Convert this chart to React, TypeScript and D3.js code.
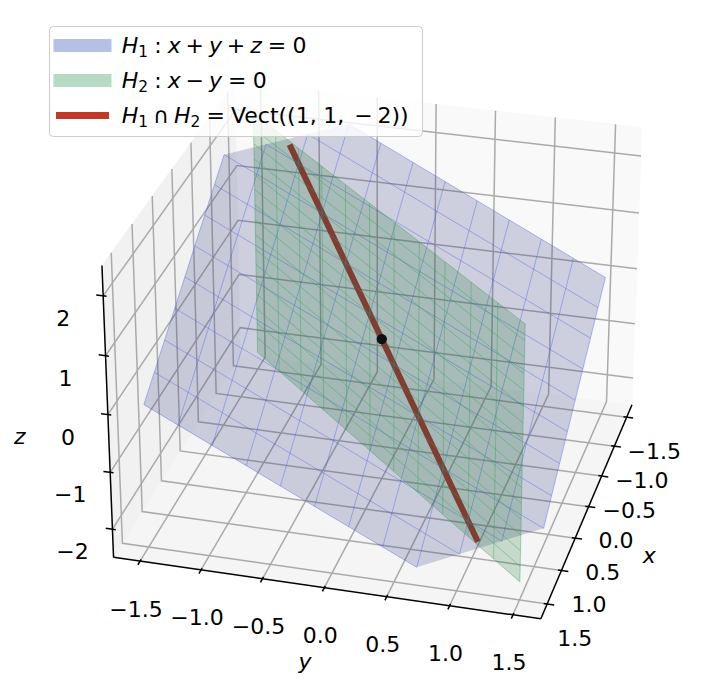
import React from "react";
import * as d3 from "d3";

// ---------------- data ----------------
const xTicks = [-1.5, -1.0, -0.5, 0.0, 0.5, 1.0, 1.5];
const yTicks = [-1.5, -1.0, -0.5, 0.0, 0.5, 1.0, 1.5];
const zTicks = [-2, -1, 0, 1, 2];
const xLim: [number, number] = [-1.71875, 1.71875];
const yLim: [number, number] = [-1.71875, 1.71875];
const zLim: [number, number] = [-2.5, 2.5];
// mesh nodes of both planes on [-1.5, 1.5]
const meshST = [-1.5, -1.2273, -0.9545, -0.6818, -0.4091, -0.1364, 0.1364, 0.4091, 0.6818, 0.9545, 1.2273, 1.5];
// vertical mesh nodes of H2
const meshZ = [-2.1818, -1.9091, -1.6364, -1.3636, -1.0909, -0.8182, -0.5455, -0.2727, 0, 0.2727, 0.5455, 0.8182, 1.0909, 1.3636, 1.6364, 1.9091, 2.1818];
const zCut = 2.1818; // H1 is kept where |z| <= zCut
const h1Normal = [1, 1, 1]; // x + y + z = 0
const lineDir = [1, 1, -2];
const lineT: [number, number] = [-1.0607, 1.0607];
const originPt = [0, 0, 0];

// ---------------- view ----------------
const W = 723, H = 699;
const ELEV = 28.5, AZIM = 15, DIST = 10;
const SCALE = 3775, CX = 381.8, CY = 339.1;
const FONT = "DejaVu Sans";
const FS = 22;

function makeProjector() {
  const r = Math.PI / 180;
  const e = ELEV * r, a = AZIM * r;
  const u = [-Math.sin(a), Math.cos(a), 0];
  const v = [-Math.sin(e) * Math.cos(a), -Math.sin(e) * Math.sin(a), Math.cos(e)];
  const w = [Math.cos(e) * Math.cos(a), Math.cos(e) * Math.sin(a), Math.sin(e)];
  const k = 1.8294640721620434 / Math.hypot(4, 4, 3);
  const box = [4 * k, 4 * k, 3 * k];
  const sx = d3.scaleLinear().domain(xLim).range([-box[0] / 2, box[0] / 2]);
  const sy = d3.scaleLinear().domain(yLim).range([-box[1] / 2, box[1] / 2]);
  const sz = d3.scaleLinear().domain(zLim).range([-box[2] / 2, box[2] / 2]);
  const screenX = d3.scaleLinear().domain([0, 1]).range([CX, CX + SCALE]);
  const screenY = d3.scaleLinear().domain([0, 1]).range([CY, CY - SCALE]);
  return (p: number[]): [number, number] => {
    const P = [sx(p[0]), sy(p[1]), sz(p[2])];
    const dot = (q: number[]) => q[0] * P[0] + q[1] * P[1] + q[2] * P[2];
    const den = DIST - dot(w);
    return [screenX(dot(u) / den), screenY(dot(v) / den)];
  };
}

const project = makeProjector();
const line2d = d3.line<[number, number]>();
const pathOf = (pts: number[][], close = false) =>
  line2d(pts.map((p) => project(p))) + (close ? "Z" : "");

// clip polygon in xy against f(p) >= 0
function clipPoly(poly: number[][], f: (p: number[]) => number) {
  const out: number[][] = [];
  for (let i = 0; i < poly.length; i++) {
    const a = poly[i], b = poly[(i + 1) % poly.length];
    const fa = f(a), fb = f(b);
    if (fa >= 0) out.push(a);
    if ((fa >= 0) !== (fb >= 0)) {
      const t = fa / (fa - fb);
      out.push([a[0] + t * (b[0] - a[0]), a[1] + t * (b[1] - a[1])]);
    }
  }
  return out;
}

const h1z = (x: number, y: number) => -(h1Normal[0] * x + h1Normal[1] * y) / h1Normal[2];

type Tok = { s: string; it?: boolean; sub?: boolean; gap?: number };

function MathText({ x, y, toks, fs }: { x: number; y: number; toks: Tok[]; fs: number }) {
  let shifted = false;
  return (
    <text x={x} y={y} fontFamily={FONT} fontSize={fs} fill="#000">
      {toks.map((t, i) => {
        let dy = 0;
        if (t.sub && !shifted) { dy = 0.22 * fs; shifted = true; }
        else if (!t.sub && shifted) { dy = -0.22 * fs; shifted = false; }
        return (
          <tspan key={i} dx={(t.gap || 0) * fs} dy={dy}
            fontStyle={t.it ? "italic" : "normal"} fontSize={t.sub ? fs * 0.7 : fs}>
            {t.s}
          </tspan>
        );
      })}
    </text>
  );
}

const legendRows: { kind: string; color: string; toks: Tok[] }[] = [
  {
    kind: "patch", color: "#b5c1e4",
    toks: [{ s: "H", it: true }, { s: "1", sub: true }, { s: ":", gap: 0.278 }, { s: "x", it: true, gap: 0.278 },
      { s: "+", gap: 0.222 }, { s: "y", it: true, gap: 0.222 }, { s: "+", gap: 0.222 }, { s: "z", it: true, gap: 0.222 },
      { s: "=", gap: 0.278 }, { s: "0", gap: 0.278 }],
  },
  {
    kind: "patch", color: "#b7dac5",
    toks: [{ s: "H", it: true }, { s: "2", sub: true }, { s: ":", gap: 0.278 }, { s: "x", it: true, gap: 0.278 },
      { s: "\u2212", gap: 0.222 }, { s: "y", it: true, gap: 0.222 }, { s: "=", gap: 0.278 }, { s: "0", gap: 0.278 }],
  },
  {
    kind: "line", color: "#c0392b",
    toks: [{ s: "H", it: true }, { s: "1", sub: true }, { s: "\u2229", gap: 0.222 }, { s: "H", it: true, gap: 0.222 },
      { s: "2", sub: true }, { s: "=", gap: 0.278 }, { s: "Vect((1,", gap: 0.278 }, { s: "1,", gap: 0.3 },
      { s: "\u2212", gap: 0.45 }, { s: "2))", gap: 0.222 }],
  },
];

export default function App() {
  const [xmin, xmax] = xLim, [ymin, ymax] = yLim, [zmin, zmax] = zLim;
  const dX = ((xmax - xmin) / (1 + 1 / 24)) / 12;
  const dY = ((ymax - ymin) / (1 + 1 / 24)) / 12;

  const panes = [
    { pts: [[xmin, ymin, zmin], [xmax, ymin, zmin], [xmax, ymax, zmin], [xmin, ymax, zmin]], fill: "#f5f5f5" },
    { pts: [[xmin, ymin, zmin], [xmax, ymin, zmin], [xmax, ymin, zmax], [xmin, ymin, zmax]], fill: "#f1f1f1" },
    { pts: [[xmin, ymin, zmin], [xmin, ymax, zmin], [xmin, ymax, zmax], [xmin, ymin, zmax]], fill: "#f9f9f9" },
  ];

  const grid: number[][][] = [
    ...xTicks.map((x0) => [[x0, ymax, zmin], [x0, ymin, zmin], [x0, ymin, zmax]]),
    ...yTicks.map((y0) => [[xmax, y0, zmin], [xmin, y0, zmin], [xmin, y0, zmax]]),
    ...zTicks.map((z0) => [[xmax, ymin, z0], [xmin, ymin, z0], [xmin, ymax, z0]]),
  ];

  // H1 clipped plane
  const sLo = meshST[0], sHi = meshST[meshST.length - 1];
  let sq: number[][] = [[sLo, sLo], [sHi, sLo], [sHi, sHi], [sLo, sHi]];
  sq = clipPoly(sq, (p) => zCut - h1z(p[0], p[1]));
  sq = clipPoly(sq, (p) => h1z(p[0], p[1]) + zCut);
  const h1Poly = sq.map((p) => [p[0], p[1], h1z(p[0], p[1])]);
  const h1Lines: number[][][] = [];
  meshST.forEach((c) => {
    const lo = Math.max(sLo, -zCut - c), hi = Math.min(sHi, zCut - c);
    if (hi > lo + 1e-9) {
      h1Lines.push([[c, lo, h1z(c, lo)], [c, hi, h1z(c, hi)]]);
      h1Lines.push([[lo, c, h1z(lo, c)], [hi, c, h1z(hi, c)]]);
    }
  });

  // H2 plane x = y
  const zLo = meshZ[0], zHi = meshZ[meshZ.length - 1];
  const h2Poly = [[sLo, sLo, zLo], [sHi, sHi, zLo], [sHi, sHi, zHi], [sLo, sLo, zHi]];
  const h2Lines: number[][][] = [
    ...meshST.map((s) => [[s, s, zLo], [s, s, zHi]]),
    ...meshZ.map((z) => [[sLo, sLo, z], [sHi, sHi, z]]),
  ];

  const redLine = lineT.map((t) => lineDir.map((d) => d * t));
  const dot = project(originPt);

  const fmt1 = d3.format(".1f");
  const fmt0 = d3.format("d");

  const xOff = [27.5, 34.3], yOff = [-4, 48], zOff = [-40, 22.5];

  return (
    <svg width={W} height={H} style={{ position: "absolute", left: 0, top: 0, background: "#fff" }}
      xmlns="http://www.w3.org/2000/svg">
      <rect x={0} y={0} width={W} height={H} fill="#fff" />
      {panes.map((p, i) => (
        <path key={"pane" + i} d={pathOf(p.pts, true)} fill={p.fill} stroke={p.fill} strokeWidth={0.5} />
      ))}
      {grid.map((g, i) => (
        <path key={"g" + i} d={pathOf(g)} fill="none" stroke="#aaaaaa" strokeWidth={1.5} />
      ))}
      {/* axis lines */}
      <path d={pathOf([[xmin, ymax, zmin], [xmax, ymax, zmin]])} stroke="#000" strokeWidth={1.5} fill="none" />
      <path d={pathOf([[xmax, ymin, zmin], [xmax, ymax, zmin]])} stroke="#000" strokeWidth={1.5} fill="none" />
      <path d={pathOf([[xmax, ymin, zmin], [xmax, ymin, zmax]])} stroke="#000" strokeWidth={1.5} fill="none" />
      {/* ticks */}
      {xTicks.map((t, i) => (
        <path key={"xt" + i} d={pathOf([[t, ymax - 0.1 * dY, zmin], [t, ymax + 0.2 * dY, zmin]])} stroke="#000" strokeWidth={1.5} />
      ))}
      {yTicks.map((t, i) => (
        <path key={"yt" + i} d={pathOf([[xmax - 0.1 * dX, t, zmin], [xmax + 0.2 * dX, t, zmin]])} stroke="#000" strokeWidth={1.5} />
      ))}
      {zTicks.map((t, i) => (
        <path key={"zt" + i} d={pathOf([[xmax, ymin + 0.1 * dY, t], [xmax, ymin - 0.2 * dY, t]])} stroke="#000" strokeWidth={1.5} />
      ))}
      {/* tick labels */}
      {xTicks.map((t, i) => {
        const p = project([t, ymax, zmin]);
        return <text key={"xl" + i} x={p[0] + xOff[0]} y={p[1] + xOff[1]} textAnchor="middle" dominantBaseline="central"
          fontFamily={FONT} fontSize={FS}>{fmt1(t)}</text>;
      })}
      {yTicks.map((t, i) => {
        const p = project([xmax, t, zmin]);
        return <text key={"yl" + i} x={p[0] + yOff[0]} y={p[1] + yOff[1]} textAnchor="middle" dominantBaseline="central"
          fontFamily={FONT} fontSize={FS}>{fmt1(t)}</text>;
      })}
      {zTicks.map((t, i) => {
        const p = project([xmax, ymin, t]);
        return <text key={"zl" + i} x={p[0] + zOff[0]} y={p[1] + zOff[1]} textAnchor="middle" dominantBaseline="central"
          fontFamily={FONT} fontSize={FS}>{fmt0(t)}</text>;
      })}
      {/* axis titles */}
      {(() => {
        const px = project([0, ymax, zmin]);
        const py = project([xmax, 0, zmin]);
        const pz = project([xmax, ymin, 0]);
        return (
          <g fontFamily={FONT} fontSize={FS} fontStyle="italic" textAnchor="middle" dominantBaseline="central">
            <text x={px[0] + 60.7} y={px[1] + 49}>x</text>
            <text x={py[0] - 19.4} y={py[1] + 74}>y</text>
            <text x={pz[0] - 88} y={pz[1] + 22.4}>z</text>
          </g>
        );
      })()}
      {/* intersection line (behind the translucent planes) */}
      <path d={pathOf(redLine)} stroke="#bc2a1a" strokeWidth={6} fill="none" />
      {/* H1 */}
      <path d={pathOf(h1Poly, true)} fill="rgb(48,60,130)" fillOpacity={0.22} stroke="none" />
      {h1Lines.map((l, i) => (
        <path key={"h1l" + i} d={pathOf(l)} stroke="rgb(70,95,225)" strokeOpacity={0.5} strokeWidth={0.8} fill="none" />
      ))}
      {/* H2 */}
      <path d={pathOf(h2Poly, true)} fill="rgb(30,118,52)" fillOpacity={0.22} stroke="none" />
      {h2Lines.map((l, i) => (
        <path key={"h2l" + i} d={pathOf(l)} stroke="rgb(50,160,85)" strokeOpacity={0.5} strokeWidth={0.8} fill="none" />
      ))}
      <circle cx={dot[0]} cy={dot[1]} r={5.2} fill="#0d1114" />
      {/* legend */}
      <g>
        <rect x={49.5} y={26.5} width={373} height={110} rx={4} fill="#fff" fillOpacity={0.8} stroke="#cccccc" strokeWidth={1} />
        {legendRows.map((r, i) => {
          const cy = 45.5 + i * 35;
          return (
            <g key={"lg" + i}>
              {r.kind === "patch"
                ? <rect x={53.5} y={cy - 6.5} width={58} height={13} fill={r.color} />
                : <line x1={56} x2={109} y1={cy} y2={cy} stroke={r.color} strokeWidth={7} />}
              <MathText x={121.7} y={cy + 7} toks={r.toks} fs={FS} />
            </g>
          );
        })}
      </g>
    </svg>
  );
}
